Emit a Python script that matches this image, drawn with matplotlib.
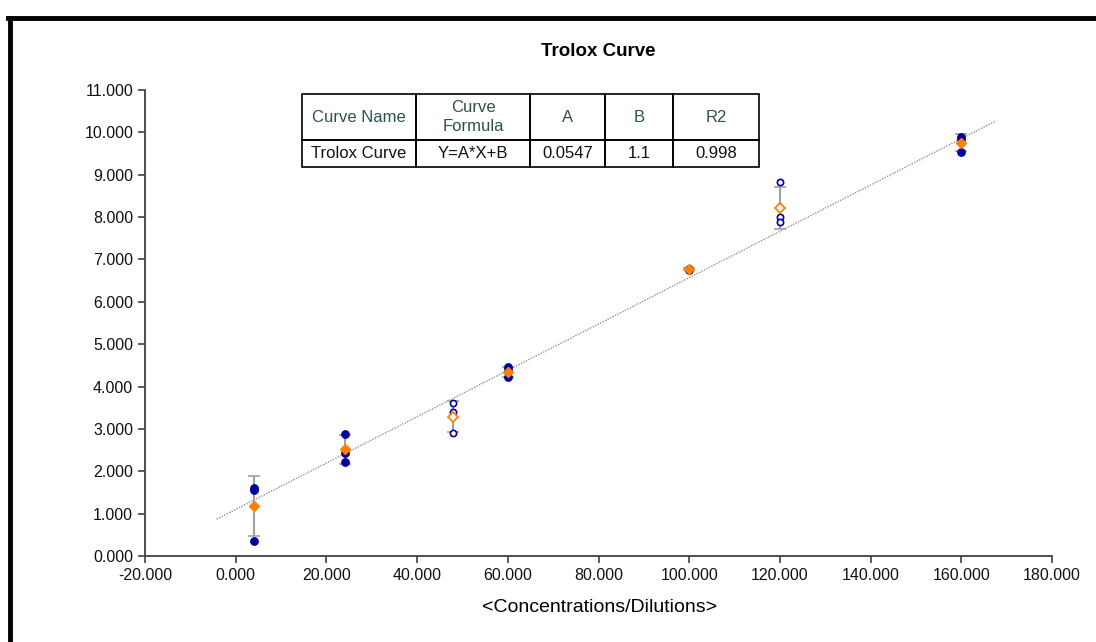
import matplotlib.pyplot as plt
from matplotlib.lines import Line2D
from matplotlib.patches import Rectangle

plt.rcParams['font.family'] = ['Liberation Sans', 'DejaVu Sans']

# replicate readings per concentration (filled = used, open = flagged)
conc = [4, 24, 48, 60, 100, 120, 160]
reps = [
    [1.55, 1.60, 0.35],
    [2.88, 2.42, 2.21],
    [3.60, 3.39, 2.91],
    [4.45, 4.38, 4.22],
    [6.78, 6.77, 6.76],
    [8.82, 8.00, 7.88],
    [9.89, 9.85, 9.53],
]
rep_open = [False, False, True, False, False, True, False]
means = [1.18, 2.52, 3.29, 4.35, 6.77, 8.22, 9.75]
sds = [0.70, 0.34, 0.36, 0.12, 0.03, 0.50, 0.20]

# fit parameters
fit_a = 0.0547
fit_b = 1.1
fit_r2 = 0.998
fit_range = [-4.2, 167.7]

table_head = ['Curve Name', 'Curve\nFormula', 'A', 'B', 'R2']
table_row = ['Trolox Curve', 'Y=A*X+B', str(fit_a), str(fit_b), str(fit_r2)]

blue = '#00009C'
orange = '#FF8000'

fig = plt.figure(figsize=(10.96, 6.42), dpi=100)
ax = fig.add_axes([145/1096, 1-556/642, 907/1096, 466/642])

# trend line
fx = fit_range
fy = [fit_a*v + fit_b for v in fx]
ax.plot(fx, fy, color='#909090', lw=1, ls=(0, (1, 1)), zorder=1)

# error bars around means
ax.errorbar(conc, means, yerr=sds, fmt='none', ecolor='#A0A0A0', elinewidth=1.5,
            capsize=4.3, capthick=1.2, zorder=2)

# replicates
for x, ys, op in zip(conc, reps, rep_open):
    for y in ys:
        if op:
            ax.plot(x, y, 'o', ms=4.5, mfc='white', mec=blue, mew=1.2, zorder=3)
        else:
            ax.plot(x, y, 'o', ms=5.3, color=blue, zorder=3)

# means
for x, m, op in zip(conc, means, rep_open):
    if op:
        ax.plot(x, m, 'D', ms=5, mfc='white', mec=orange, mew=1.3, zorder=4)
    else:
        ax.plot(x, m, 'D', ms=5.5, color=orange, zorder=4)

ax.set_xlim(-20, 180)
ax.set_ylim(0, 11)
ax.set_xticks(range(-20, 181, 20))
ax.set_yticks(range(0, 12))
ax.xaxis.set_major_formatter(plt.FormatStrFormatter('%.3f'))
ax.yaxis.set_major_formatter(plt.FormatStrFormatter('%.3f'))
ax.tick_params(labelsize=11.5, length=5, width=1.2, color='#404040', labelcolor='#111111')
for s in ['top', 'right']:
    ax.spines[s].set_visible(False)
for s in ['left', 'bottom']:
    ax.spines[s].set_color('#404040')
    ax.spines[s].set_linewidth(1.3)

fig.text(598/1096, 1-51/642, 'Trolox Curve', ha='center', va='center',
         fontsize=13.5, fontweight='bold')
fig.text(600/1096, 1-608/642, '<Concentrations/Dilutions>', ha='center', va='center',
         fontsize=14)

# parameter table
tab = fig.add_axes([302/1096, 1-167/642, 457/1096, 73/642])
tab.set_xlim(0, 457)
tab.set_ylim(0, 73)
tab.axis('off')
col_w = [114, 114, 75, 68, 86]
x0 = 0
for w, h_txt, r_txt in zip(col_w, table_head, table_row):
    tab.add_patch(Rectangle((x0, 27), w, 46, fill=False, lw=1.2, ec='black', clip_on=False))
    tab.add_patch(Rectangle((x0, 0), w, 27, fill=False, lw=1.2, ec='black', clip_on=False))
    tab.text(x0 + w/2, 27 + 23, h_txt, ha='center', va='center', fontsize=12,
             color='#2F4F4F', linespacing=1.35)
    tab.text(x0 + w/2, 13.5, r_txt, ha='center', va='center', fontsize=12, color='#111111')
    x0 += w

# outer frame
fig.add_artist(Line2D([8/1096, 1], [1-18/642, 1-18/642], color='black', lw=3.5,
                      transform=fig.transFigure))
fig.add_artist(Line2D([10/1096, 10/1096], [0, 1-18/642], color='black', lw=3.5,
                      transform=fig.transFigure))

fig.savefig('out.png', dpi=100)
